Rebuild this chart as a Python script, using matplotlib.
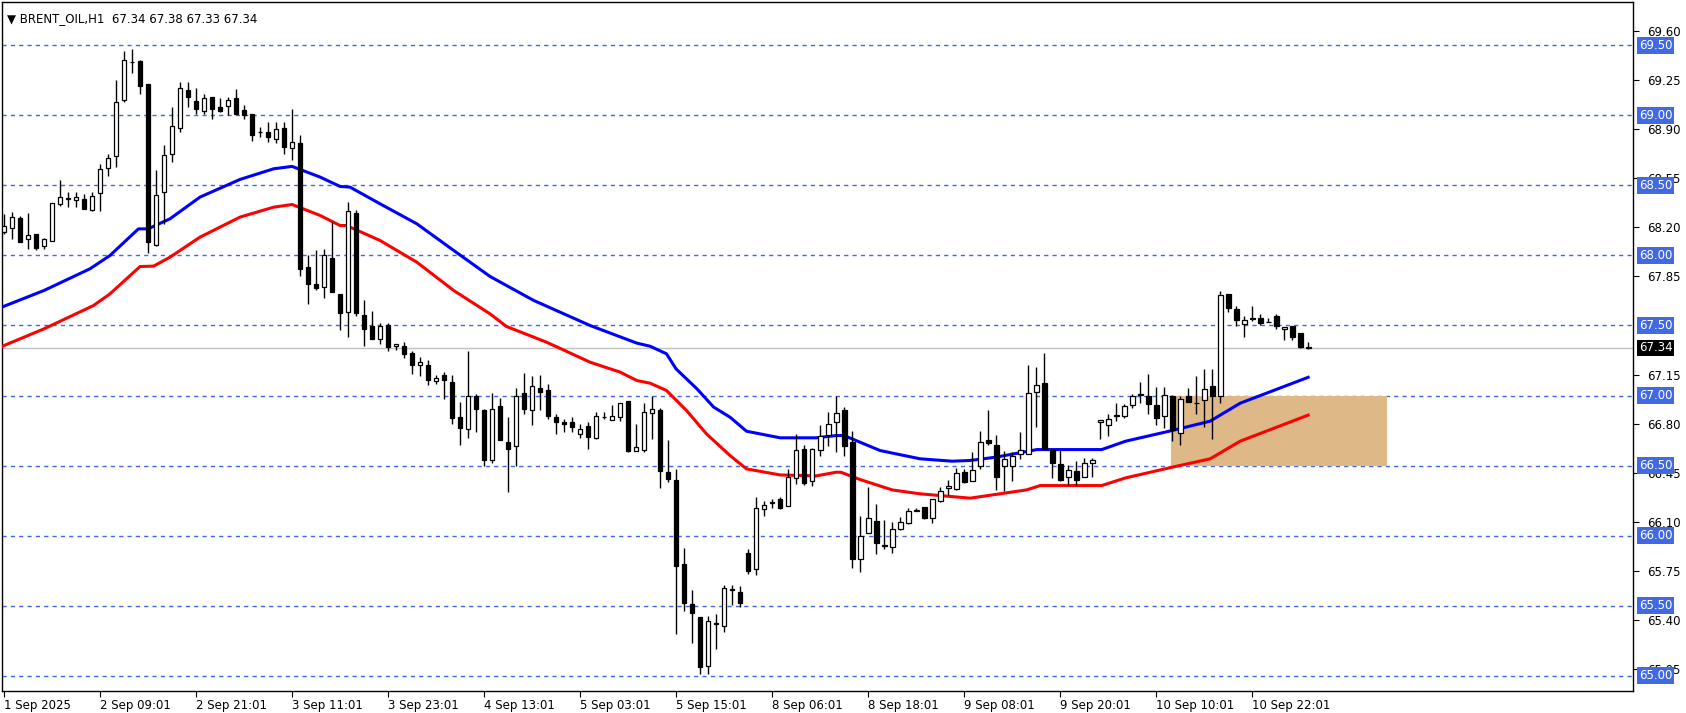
import matplotlib
matplotlib.use("Agg")
import matplotlib.pyplot as plt
import numpy as np

# ---- data (H1 bars) ----
opens = [68.169, 68.195, 68.271, 68.117, 68.155, 68.067, 68.105, 68.369, 68.405, 68.398,
         68.405, 68.326, 68.448, 68.626, 68.707, 69.107, 69.379, 69.388, 69.226, 68.076,
         68.452, 68.726, 68.912, 69.183, 69.1, 69.031, 69.129, 69.057, 69.064, 69.126,
         69.036, 69.007, 68.881, 68.879, 68.833, 68.912, 68.769, 68.805, 67.921, 67.793,
         67.774, 67.983, 67.726, 67.595, 68.305, 67.576, 67.493, 67.4, 67.505, 67.352,
         67.357, 67.305, 67.219, 67.221, 67.102, 67.143, 67.1, 66.85, 66.762, 67.0,
         66.9, 66.54, 66.926, 66.667, 66.638, 67.019, 66.898, 67.055, 67.04, 66.85,
         66.812, 66.814, 66.726, 66.783, 66.7, 66.845, 66.826, 66.845, 66.96, 66.602,
         66.614, 66.874, 66.898, 66.452, 66.398, 65.798, 65.512, 65.417, 65.071, 65.369,
         65.357, 65.612, 65.595, 65.874, 65.76, 66.19, 66.229, 66.26, 66.21, 66.41,
         66.621, 66.388, 66.612, 66.717, 66.81, 66.893, 66.667, 65.831, 66.021, 66.102,
         65.931, 65.917, 66.05, 66.093, 66.176, 66.202, 66.126, 66.25, 66.34, 66.333,
         66.457, 66.393, 66.50, 66.679, 66.648, 66.495, 66.498, 66.579, 66.583, 67.024,
         67.088, 66.612, 66.51, 66.419, 66.46, 66.419, 66.519, 66.81, 66.793, 66.855,
         66.855, 66.931, 67.005, 66.995, 66.931, 66.855, 66.998, 66.729, 66.993, 66.95,
         66.971, 67.071, 67.0, 67.724, 67.617, 67.512, 67.545, 67.557, 67.524, 67.571,
         67.474, 67.495, 67.443, 67.34]
highs = [68.298, 68.307, 68.279, 68.305, 68.155, 68.126, 68.376, 68.536, 68.452, 68.452,
         68.44, 68.452, 68.655, 68.726, 69.255, 69.457, 69.476, 69.398, 69.226, 68.607,
         68.786, 69.06, 69.238, 69.238, 69.198, 69.155, 69.129, 69.126, 69.131, 69.19,
         69.071, 69.007, 68.917, 68.952, 68.952, 68.955, 69.048, 68.857, 68.0, 68.036,
         68.048, 68.238, 67.726, 68.379, 68.326, 67.679, 67.602, 67.519, 67.519, 67.369,
         67.381, 67.321, 67.274, 67.255, 67.15, 67.171, 67.148, 66.957, 67.319, 67.012,
         66.905, 67.019, 66.981, 66.848, 67.055, 67.159, 67.14, 67.15, 67.079, 66.869,
         66.829, 66.848, 66.798, 66.812, 66.883, 66.881, 66.935, 66.95, 66.96, 66.798,
         66.943, 66.995, 66.91, 66.683, 66.476, 65.912, 65.612, 65.417, 65.424, 65.44,
         65.648, 65.648, 65.638, 65.902, 66.276, 66.25, 66.26, 66.276, 66.476, 66.726,
         66.65, 66.626, 66.793, 66.879, 66.998, 66.921, 66.75, 66.14, 66.345, 66.224,
         66.114, 66.095, 66.131, 66.198, 66.198, 66.207, 66.262, 66.35, 66.395, 66.479,
         66.474, 66.60, 66.745, 66.893, 66.719, 66.602, 66.595, 66.738, 67.221, 67.202,
         67.307, 66.612, 66.61, 66.505, 66.53, 66.555, 66.555, 66.826, 66.871, 66.943,
         66.938, 67.012, 67.1, 67.155, 67.06, 67.06, 67.005, 67.0, 67.052, 67.14,
         67.19, 67.19, 67.743, 67.724, 67.64, 67.567, 67.64, 67.579, 67.557, 67.579,
         67.49, 67.495, 67.443, 67.38]
lows = [68.155, 68.119, 68.095, 68.048, 68.036, 68.048, 68.105, 68.352, 68.345, 68.345,
        68.329, 68.321, 68.321, 68.571, 68.631, 69.095, 69.302, 69.15, 68.017, 68.071,
        68.226, 68.671, 68.881, 69.06, 69.012, 69.012, 68.976, 69.024, 69.0, 69.007,
        68.976, 68.821, 68.845, 68.81, 68.802, 68.726, 68.683, 67.852, 67.655, 67.75,
        67.695, 67.738, 67.469, 67.417, 67.571, 67.352, 67.402, 67.369, 67.321, 67.324,
        67.269, 67.155, 67.138, 67.076, 67.079, 66.974, 66.798, 66.648, 66.695, 66.738,
        66.5, 66.517, 66.679, 66.31, 66.5, 66.869, 66.793, 66.9, 66.833, 66.726,
        66.74, 66.74, 66.698, 66.621, 66.693, 66.829, 66.826, 66.821, 66.6, 66.602,
        66.6, 66.693, 66.343, 66.379, 65.298, 65.46, 65.231, 65.012, 65.012, 65.19,
        65.314, 65.507, 65.488, 65.726, 65.719, 66.14, 66.2, 66.19, 66.21, 66.369,
        66.362, 66.357, 66.571, 66.638, 66.595, 66.567, 65.767, 65.74, 66.017, 65.867,
        65.905, 65.876, 66.038, 66.083, 66.176, 66.117, 66.088, 66.238, 66.29, 66.326,
        66.374, 66.388, 66.476, 66.648, 66.324, 66.317, 66.393, 66.55, 66.583, 66.776,
        66.621, 66.414, 66.39, 66.364, 66.36, 66.419, 66.419, 66.69, 66.714, 66.819,
        66.843, 66.91, 66.95, 66.871, 66.788, 66.769, 66.676, 66.65, 66.952, 66.871,
        66.776, 66.69, 66.95, 67.593, 67.498, 67.421, 67.529, 67.5, 67.524, 67.476,
        67.393, 67.393, 67.34, 67.33]
closes = [68.207, 68.274, 68.098, 68.148, 68.052, 68.121, 68.376, 68.419, 68.405, 68.419,
          68.333, 68.426, 68.619, 68.695, 69.095, 69.398, 69.379, 69.21, 68.095, 68.433,
          68.719, 68.926, 69.198, 69.131, 69.048, 69.124, 69.048, 69.029, 69.112, 69.012,
          69.0, 68.862, 68.881, 68.845, 68.905, 68.774, 68.812, 67.905, 67.798, 67.767,
          68.0, 67.738, 67.588, 68.321, 67.588, 67.476, 67.402, 67.495, 67.345, 67.369,
          67.293, 67.221, 67.238, 67.114, 67.126, 67.114, 66.838, 66.767, 66.993, 66.905,
          66.543, 66.902, 66.679, 66.621, 66.995, 66.902, 67.069, 67.024, 66.852, 66.81,
          66.795, 66.774, 66.764, 66.707, 66.855, 66.845, 66.857, 66.95, 66.605, 66.633,
          66.879, 66.905, 66.464, 66.402, 65.786, 65.517, 65.445, 65.06, 65.388, 65.369,
          65.624, 65.612, 65.519, 65.748, 66.198, 66.221, 66.243, 66.2, 66.421, 66.612,
          66.374, 66.619, 66.712, 66.798, 66.876, 66.638, 65.836, 65.995, 66.124, 65.945,
          65.924, 66.048, 66.10, 66.174, 66.176, 66.124, 66.262, 66.317, 66.355, 66.45,
          66.379, 66.471, 66.67, 66.66, 66.421, 66.55, 66.569, 66.612, 67.017, 67.076,
          66.621, 66.517, 66.395, 66.469, 66.40, 66.519, 66.538, 66.826, 66.829, 66.855,
          66.924, 67.0, 67.005, 66.938, 66.843, 67.005, 66.752, 66.976, 66.952, 66.945,
          67.05, 67.0, 67.719, 67.624, 67.538, 67.536, 67.555, 67.521, 67.524, 67.493,
          67.49, 67.417, 67.348, 67.34]

# moving averages, read at sample bars
ma_blue_x = [-0.5, 5, 10.75, 13.25, 16.8, 18, 20.75, 24.5, 29.5, 33.7, 36, 39.5, 42, 43.25,
             47, 51.6, 56.2, 60.75, 66.2, 73.25, 79.1, 80.75, 82.8, 84, 86.6, 88.7, 90.75,
             92.8, 97, 101.5, 104, 105, 109.5, 114.5, 118.5, 120.75, 124, 129.1, 137.2,
             140.2, 146, 150.75, 154.5, 163]
ma_blue = [67.626, 67.75, 67.905, 68.0, 68.19, 68.19, 68.262, 68.417, 68.543, 68.619, 68.636,
           68.56, 68.493, 68.488, 68.369, 68.226, 68.036, 67.85, 67.679, 67.5, 67.374,
           67.352, 67.298, 67.19, 67.048, 66.917, 66.845, 66.745, 66.698, 66.698, 66.714,
           66.714, 66.607, 66.548, 66.531, 66.536, 66.56, 66.614, 66.614, 66.674, 66.75,
           66.817, 66.945, 67.13]
ma_red_x = [-0.5, 5, 11.2, 13.25, 17, 18.7, 20.75, 24.5, 29.5, 33.7, 36, 39.5, 42, 42.8,
            47, 51.6, 56.2, 60.75, 62.8, 67.8, 73.25, 77, 79.1, 80.75, 82.8, 85.3, 87.8,
            90.75, 92.8, 97, 101.5, 104, 104.6, 107, 111, 114.5, 120.75, 127.8, 129.5,
            137.2, 140.2, 146, 150.75, 154.5, 163]
ma_red = [67.345, 67.476, 67.643, 67.726, 67.921, 67.924, 67.988, 68.131, 68.274, 68.345,
          68.364, 68.286, 68.214, 68.214, 68.107, 67.952, 67.75, 67.583, 67.493, 67.381,
          67.238, 67.167, 67.107, 67.088, 67.036, 66.893, 66.726, 66.571, 66.476, 66.433,
          66.426, 66.452, 66.452, 66.40, 66.326, 66.298, 66.267, 66.326, 66.357, 66.357,
          66.412, 66.488, 66.548, 66.674, 66.86]

levels = [69.5, 69.0, 68.5, 68.0, 67.5, 67.0, 66.5, 66.0, 65.5, 65.0]
scale_ticks = [69.60, 69.25, 68.90, 68.55, 68.20, 67.85, 67.15, 66.80, 66.45, 66.10, 65.75, 65.40, 65.05]
date_labels = ["1 Sep 2025", "2 Sep 09:01", "2 Sep 21:01", "3 Sep 11:01", "3 Sep 23:01",
               "4 Sep 13:01", "5 Sep 03:01", "5 Sep 15:01", "8 Sep 06:01", "8 Sep 18:01",
               "9 Sep 08:01", "9 Sep 20:01", "10 Sep 10:01", "10 Sep 22:01"]
last_price = 67.34
zone_x = (145.9, 172.9)
zone_y = (66.5, 67.0)

plt.rcParams['font.family'] = ['DejaVu Sans']
W, H = 1686, 713
fig = plt.figure(figsize=(W / 100, H / 100), dpi=100)
ax = fig.add_axes([2 / W, 22 / H, (1633 - 2) / W, (711 - 22) / H])
ax.set_xlim(-0.25, 203.6)
ax.set_ylim(64.89, 69.81)

LB = '#4169e1'
for lv in levels:
    ax.axhline(lv, color=LB, ls=(0, (3, 3)), lw=1, zorder=1)
ax.axhline(last_price, color='#c0c0c0', lw=1, zorder=1)

ax.add_patch(plt.Rectangle((zone_x[0], zone_y[0]), zone_x[1] - zone_x[0], zone_y[1] - zone_y[0],
                           facecolor='#deb887', edgecolor='none', zorder=2))

ax.plot(ma_blue_x, ma_blue, color='#0000ff', lw=2.2, zorder=3)
ax.plot(ma_red_x, ma_red, color='#ff0000', lw=2.2, zorder=3)

o = np.array(opens); h = np.array(highs); l = np.array(lows); c = np.array(closes)
idx = np.arange(len(o))
ax.vlines(idx, l, h, color='black', lw=1, zorder=4)
up = c >= o
body_lo = np.minimum(o, c)
body_h = np.maximum(np.abs(c - o), 0.004)
ax.bar(idx[up], body_h[up], bottom=body_lo[up], width=0.6, facecolor='white',
       edgecolor='black', lw=0.9, zorder=5)
ax.bar(idx[~up], body_h[~up], bottom=body_lo[~up], width=0.6, facecolor='black',
       edgecolor='black', lw=0.9, zorder=5)

# axes styling
for s in ax.spines.values():
    s.set_linewidth(1)
ax.yaxis.tick_right()
ax.set_yticks(scale_ticks)
ax.set_yticklabels([f"{v:.2f}" for v in scale_ticks], fontsize=8.5)
ax.tick_params(axis='y', direction='out', length=4, pad=6)
ax.set_xticks(np.arange(len(date_labels)) * 12)
ax.set_xticklabels(date_labels, fontsize=8.5, ha='left')
ax.tick_params(axis='x', direction='out', length=4, pad=2)

for lv in levels:
    ax.text(1.0035, lv, f"{lv:.2f}", transform=ax.get_yaxis_transform(), fontsize=8.5,
            color='white', va='center', ha='left', zorder=10, clip_on=False,
            bbox=dict(boxstyle='square,pad=0.15', facecolor=LB, edgecolor='none'))
ax.text(1.0035, last_price, f"{last_price:.2f}", transform=ax.get_yaxis_transform(), fontsize=8.5,
        color='white', va='center', ha='left', zorder=11, clip_on=False,
        bbox=dict(boxstyle='square,pad=0.15', facecolor='black', edgecolor='none'))

ax.text(0.003, 0.985, "\u25BC BRENT_OIL,H1  67.34 67.38 67.33 67.34", transform=ax.transAxes,
        fontsize=8.5, va='top', ha='left')

fig.savefig("out.png", dpi=100)
